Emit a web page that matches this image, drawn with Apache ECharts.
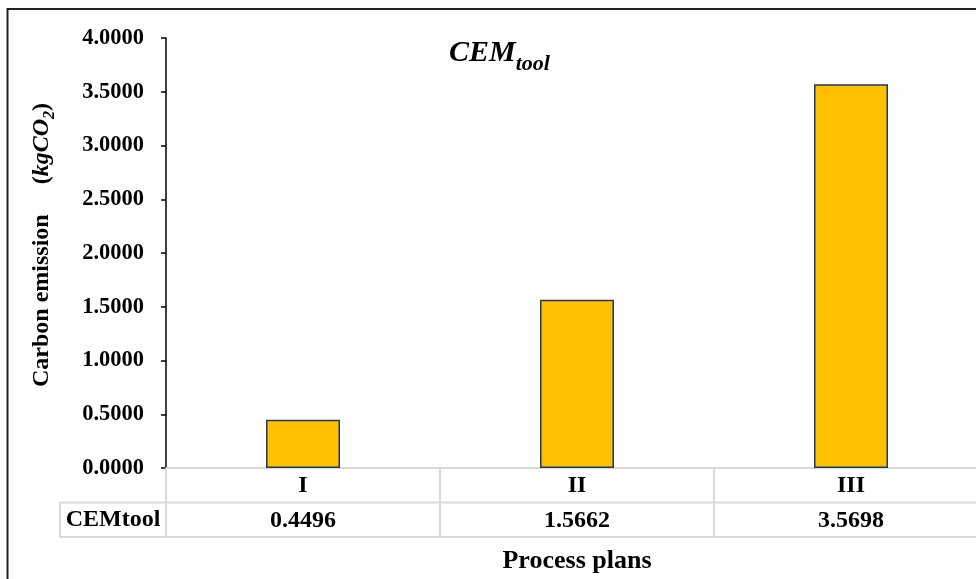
<!DOCTYPE html>
<html>
<head>
<meta charset="utf-8">
<script src="https://cdn.jsdelivr.net/npm/echarts@6/dist/echarts.min.js"></script>
<style>
  html, body { margin: 0; padding: 0; background: #fff; }
  #chart { width: 976px; height: 579px; }
</style>
</head>
<body>
<div id="chart"></div>
<script>
// Process plans and their tool carbon emissions (kgCO2)
const categories = ['I', 'II', 'III'];
const cemTool = [0.4496, 1.5662, 3.5698];
const seriesName = 'CEMtool';

const FONT = "'Liberation Serif', 'Times New Roman', serif";
const gridLeft = 166, gridTop = 38, gridWidth = 822, gridHeight = 430;
const rowH = 34.5;
const tableLeft = 60;

const chart = echarts.init(document.getElementById('chart'));

const tableBottom = gridTop + gridHeight + rowH * 2;
const tableMid = gridTop + gridHeight + rowH;
const gridColor = '#D9D9D9';

chart.setOption({
  animation: false,
  backgroundColor: '#fff',
  title: {
    text: '{a|CEM}{b|tool}',
    left: 444,
    top: 31,
    textStyle: {
      rich: {
        a: { fontFamily: FONT, fontSize: 30, fontWeight: 'bold', fontStyle: 'italic', color: '#000', lineHeight: 32, verticalAlign: 'bottom' },
        b: { fontFamily: FONT, fontSize: 22, fontWeight: 'bold', fontStyle: 'italic', color: '#000', lineHeight: 22, verticalAlign: 'bottom', padding: [0, 0, -7, 0] }
      }
    }
  },
  grid: {
    left: gridLeft, top: gridTop, width: gridWidth, height: gridHeight,
    containLabel: false, outerBoundsMode: 'none'
  },
  xAxis: {
    type: 'category',
    data: categories,
    name: 'Process plans',
    nameLocation: 'middle',
    nameGap: 80,
    nameMoveOverlap: false,
    nameTextStyle: { fontFamily: FONT, fontSize: 26, fontWeight: 'bold', color: '#000' },
    axisLine: { lineStyle: { color: gridColor, width: 2 } },
    axisTick: { show: true, length: rowH * 2, alignWithLabel: false, lineStyle: { color: gridColor, width: 2 } },
    axisLabel: {
      margin: 1,
      formatter: function (value, idx) {
        return '{c|' + value + '}\n{v|' + cemTool[idx].toFixed(4) + '}';
      },
      rich: {
        c: { fontFamily: FONT, fontSize: 24, fontWeight: 'bold', color: '#000', lineHeight: rowH, align: 'center' },
        v: { fontFamily: FONT, fontSize: 24, fontWeight: 'bold', color: '#000', lineHeight: rowH, align: 'center' }
      }
    },
    splitLine: { show: false }
  },
  yAxis: {
    type: 'value',
    min: 0,
    max: 4,
    interval: 0.5,
    axisLine: { show: true, lineStyle: { color: '#000', width: 1.5 } },
    axisTick: { show: true, length: 5, lineStyle: { color: '#000', width: 1.5 } },
    axisLabel: {
      margin: 22,
      fontFamily: FONT, fontSize: 22.5, fontWeight: 'bold', color: '#000',
      formatter: v => v.toFixed(4)
    },
    splitLine: { show: false }
  },
  series: [{
    name: seriesName,
    type: 'bar',
    data: cemTool,
    barWidth: 74,
    itemStyle: { color: '#FFC000', borderColor: '#1F3864', borderWidth: 1.5 }
  }],
  graphic: [
    // outer chart frame
    { type: 'rect', shape: { x: 7.5, y: 9, width: 1100, height: 700 }, style: { fill: 'none', stroke: '#222', lineWidth: 2 }, silent: true },
    // data table: horizontal rules and legend-key cell
    { type: 'line', shape: { x1: tableLeft, y1: tableMid, x2: gridLeft + gridWidth, y2: tableMid }, style: { stroke: gridColor, lineWidth: 2 } },
    { type: 'line', shape: { x1: tableLeft, y1: tableBottom, x2: gridLeft + gridWidth, y2: tableBottom }, style: { stroke: gridColor, lineWidth: 2 } },
    { type: 'line', shape: { x1: tableLeft, y1: tableMid, x2: tableLeft, y2: tableBottom }, style: { stroke: gridColor, lineWidth: 2 } },
    { type: 'text', x: (tableLeft + gridLeft) / 2, y: (tableMid + tableBottom) / 2,
      style: { text: seriesName, fontFamily: FONT, fontSize: 24, fontWeight: 'bold', fill: '#000', align: 'center', verticalAlign: 'middle' } },
    // y-axis title
    { type: 'text', x: 40, y: 245, rotation: Math.PI / 2,
      style: {
        text: '{n|Carbon emission}{g|(}{i|kgCO}{s|2}{n|)}',
        align: 'center', verticalAlign: 'middle',
        rich: {
          n: { fontFamily: FONT, fontSize: 24, fontWeight: 'bold', fill: '#000', lineHeight: 28, verticalAlign: 'bottom' },
          g: { fontFamily: FONT, fontSize: 24, fontWeight: 'bold', fill: '#000', lineHeight: 28, verticalAlign: 'bottom', padding: [0, 0, 0, 30] },
          i: { fontFamily: FONT, fontSize: 24, fontWeight: 'bold', fontStyle: 'italic', fill: '#000', lineHeight: 28, verticalAlign: 'bottom' },
          s: { fontFamily: FONT, fontSize: 16, fontWeight: 'bold', fontStyle: 'italic', fill: '#000', lineHeight: 16, verticalAlign: 'bottom', padding: [0, 0, -4, 0] }
        }
      }
    }
  ]
});
</script>
</body>
</html>
